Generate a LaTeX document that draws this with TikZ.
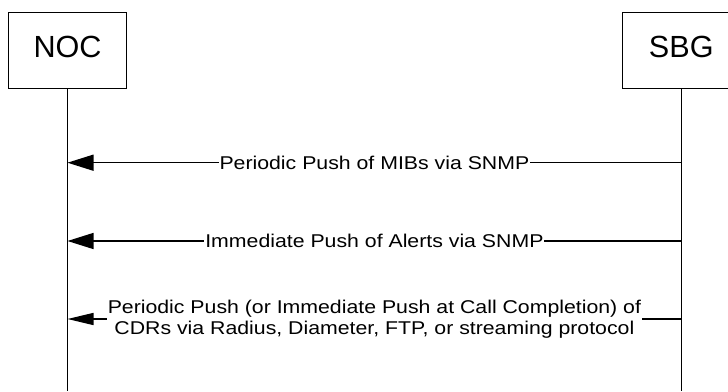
\documentclass[tikz,border=0pt]{standalone}
\usepackage{fontspec}
\setmainfont{Liberation Sans}
\newfontfamily\msgfont[FakeStretch=1.15]{Liberation Sans}
\usetikzlibrary{arrows.meta}
\begin{document}
\begin{tikzpicture}[x=1pt,y=-1pt,
  entity/.style={draw, line width=0.9pt, minimum width=118pt, minimum height=76pt,
    inner sep=0pt, text height=22pt, text depth=8pt,
    font=\fontsize{30.6}{36}\selectfont},
  lifeline/.style={line width=1.4pt},
  msg/.style={line width=1.4pt, -{Triangle[length=26pt,width=16pt]}},
  msgsmall/.style={line width=1.4pt, -{Triangle[length=26pt,width=12pt]}},
  msglabel/.style={fill=white, inner xsep=1pt, inner ysep=0pt, align=center,
    font=\msgfont\fontsize{18.5}{21}\selectfont}]
\useasboundingbox (0,0) rectangle (728,391);
\clip (0,0) rectangle (728,391);

% entities
\node[entity] (noc) at (67.5,50) {NOC};
\node[entity] (sbg) at (681.3,50) {SBG};

% lifelines
\coordinate (nocend) at (67.5,391);
\coordinate (sbgend) at (681.3,391);
\draw[lifeline] (noc) -- (nocend);
\draw[lifeline] (sbg) -- (sbgend);

% message end points on the lifelines
\coordinate (s1) at (681.3,162.7);
\coordinate (n1) at (67.5,162.7);
\coordinate (s2) at (681.3,241);
\coordinate (n2) at (67.5,241);
\coordinate (s3) at (681.3,319);
\coordinate (n3) at (67.5,319);

% messages
\draw[msg] (s1) -- node[msglabel] {Periodic Push of MIBs via SNMP} (n1);
\draw[msg] (s2) -- node[msglabel] {Immediate Push of Alerts via SNMP} (n2);
\draw[msgsmall] (s3) -- node[msglabel, yshift=-0.5pt]
  {Periodic Push (or Immediate Push at Call Completion) of\\
   CDRs via Radius, Diameter, FTP, or streaming protocol} (n3);
\end{tikzpicture}
\end{document}
